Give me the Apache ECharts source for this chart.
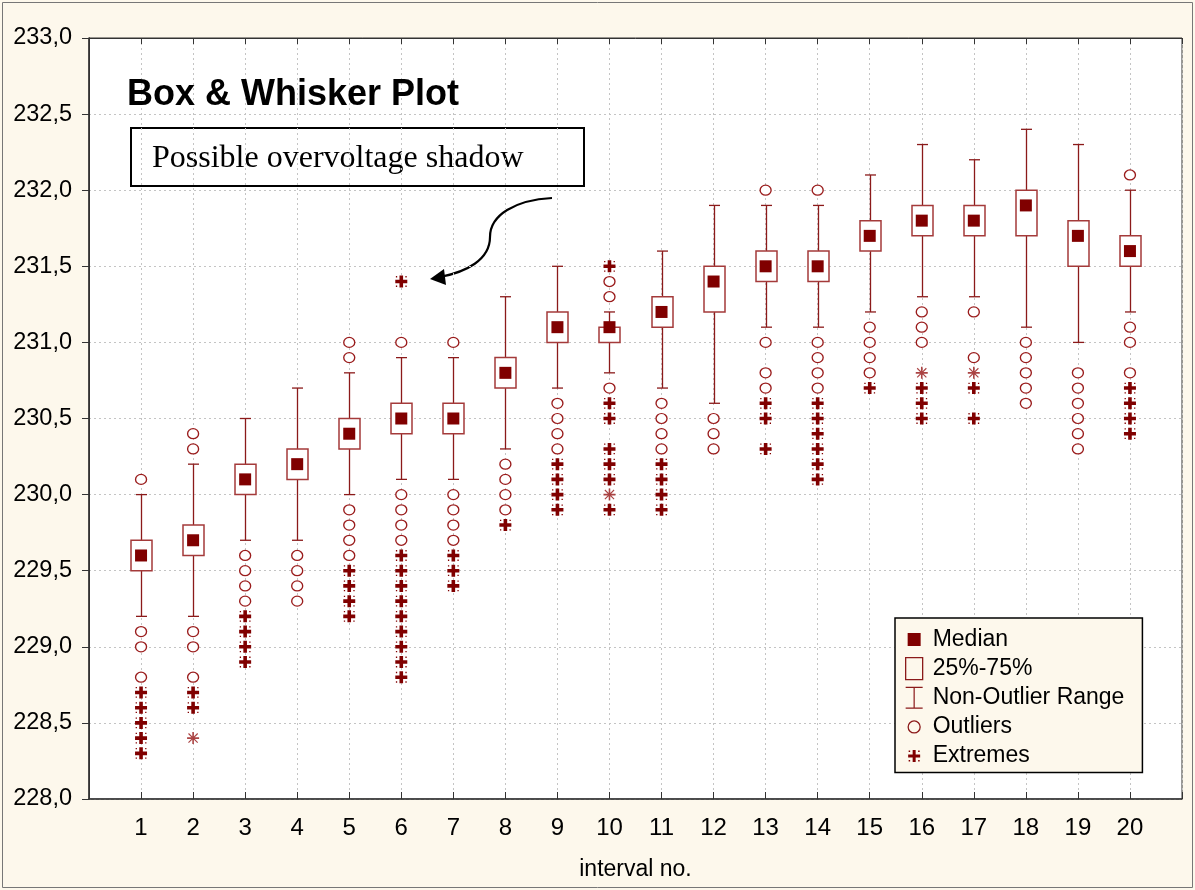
<!DOCTYPE html>
<html>
<head>
<meta charset="utf-8">
<script src="https://cdn.jsdelivr.net/npm/echarts@6/dist/echarts.min.js"></script>
<style>
html,body{margin:0;padding:0;background:#fdf8ec;}
#c{width:1195px;height:890px;}
</style>
</head>
<body>
<div id="c"></div>
<script>
// ---------------- data ----------------
const intervals = [1,2,3,4,5,6,7,8,9,10,11,12,13,14,15,16,17,18,19,20];
const yTicks = [228.0,228.5,229.0,229.5,230.0,230.5,231.0,231.5,232.0,232.5,233.0];
const whiskerLow  = [229.2,229.2,229.7,229.7,230.0,230.1,230.1,230.3,230.7,230.8,230.7,230.6,231.1,231.1,231.2,231.3,231.3,231.1,231.0,231.2];
const quartile1   = [229.5,229.6,230.0,230.1,230.3,230.4,230.4,230.7,231.0,231.0,231.1,231.2,231.4,231.4,231.6,231.7,231.7,231.7,231.5,231.5];
const medians     = [229.6,229.7,230.1,230.2,230.4,230.5,230.5,230.8,231.1,231.1,231.2,231.4,231.5,231.5,231.7,231.8,231.8,231.9,231.7,231.6];
const quartile3   = [229.7,229.8,230.2,230.3,230.5,230.6,230.6,230.9,231.2,231.1,231.3,231.5,231.6,231.6,231.8,231.9,231.9,232.0,231.8,231.7];
const whiskerHigh = [230.0,230.2,230.5,230.7,230.8,230.9,230.9,231.3,231.5,231.2,231.6,231.9,231.9,231.9,232.1,232.3,232.2,232.4,232.3,232.0];
const outliers = [
  [230.1,229.1,229.0,228.8],
  [230.4,230.3,229.1,229.0,228.8],
  [229.6,229.5,229.4,229.3],
  [229.6,229.5,229.4,229.3],
  [231.0,230.9,229.9,229.8,229.7,229.6],
  [231.0,230.0,229.9,229.8,229.7],
  [231.0,230.0,229.9,229.8,229.7],
  [230.2,230.1,230.0,229.9],
  [230.6,230.5,230.4,230.3],
  [231.4,231.3,230.7],
  [230.6,230.5,230.4,230.3],
  [230.5,230.4,230.3],
  [232.0,231.0,230.8,230.7],
  [232.0,231.0,230.9,230.8,230.7],
  [231.1,231.0,230.9,230.8],
  [231.2,231.1,231.0],
  [231.2,230.9],
  [231.0,230.9,230.8,230.7,230.6],
  [230.8,230.7,230.6,230.5,230.4,230.3],
  [232.1,231.1,231.0,230.8]
];
const extremes = [
  [228.7,228.6,228.5,228.4,228.3],
  [228.7,228.6],
  [229.2,229.1,229.0,228.9],
  [],
  [229.5,229.4,229.3,229.2],
  [231.4,229.6,229.5,229.4,229.3,229.2,229.1,229.0,228.9,228.8],
  [229.6,229.5,229.4],
  [229.8],
  [230.2,230.1,230.0,229.9],
  [231.5,230.6,230.5,230.3,230.2,230.1,229.9],
  [230.2,230.1,230.0,229.9],
  [],
  [230.6,230.5,230.3],
  [230.6,230.5,230.4,230.3,230.2,230.1],
  [230.7],
  [230.7,230.6,230.5],
  [230.7,230.5],
  [],
  [],
  [230.7,230.6,230.5,230.4]
];
const extremesFaint = [
  [], [228.4], [], [], [], [], [], [], [], [230.0],
  [], [], [], [], [], [230.8], [230.8], [], [], []
];

// ---------------- build ----------------
const RED = '#8B1A1A';
const DARK = '#800000';
const boxData = intervals.map((x, i) => [x, quartile1[i], quartile3[i]]);
const whiskerData = intervals.map((x, i) => [x, whiskerLow[i], whiskerHigh[i], quartile1[i], quartile3[i]]);
const medianData = intervals.map((x, i) => [x, medians[i]]);
const flat = arr => intervals.flatMap((x, i) => arr[i].map(v => [x, v]));
const outlierData = flat(outliers);
const extremeData = flat(extremes);
const extremeFaintData = flat(extremesFaint);

const ASTER = 'path://M4.2,0H7.8V4.2H12V7.8H7.8V12H4.2V7.8H0V4.2H4.2Z' +
  'M0.6,0.6H1.9V1.9H0.6Z M10.1,0.6H11.4V1.9H10.1Z M0.6,10.1H1.9V11.4H0.6Z M10.1,10.1H11.4V11.4H10.1Z';
const ASTER_THIN = 'path://M5.2,0H6.8V5.2H12V6.8H6.8V12H5.2V6.8H0V5.2H5.2Z' +
  'M1,1.8L1.8,1L11,10.2L10.2,11Z M10.2,1L11,1.8L1.8,11L1,10.2Z';

const chart = echarts.init(document.getElementById('c'), null, {renderer: 'canvas'});
const FONT = 'Liberation Sans, Arial, sans-serif';
const gridLine = {show: true, lineStyle: {color: '#c4c4c4', type: [2, 3], width: 1}};

const option = {
  backgroundColor: '#fdf8ec',
  animation: false,
  title: {
    text: 'Box & Whisker Plot',
    left: 127, top: 77, padding: 0,
    textStyle: {fontFamily: FONT, fontSize: 36, fontWeight: 'bold', color: '#000'}
  },
  grid: {left: 89, top: 38, right: 13, bottom: 91, show: true,
         backgroundColor: '#ffffff', borderColor: '#333', borderWidth: 1},
  xAxis: [{
    type: 'value', min: 0, max: 21, interval: 1, position: 'bottom',
    name: 'interval no.', nameLocation: 'middle', nameGap: 59,
    nameTextStyle: {fontFamily: FONT, fontSize: 23, color: '#000'},
    axisLine: {show: true, lineStyle: {color: '#333', width: 1.5}},
    axisTick: {show: true, inside: true, length: 7, lineStyle: {color: '#333'}},
    axisLabel: {margin: 17, fontFamily: FONT, fontSize: 24, color: '#000',
      formatter: v => (v >= 1 && v <= 20) ? String(intervals[v - 1]) : ''},
    splitLine: gridLine
  }, {
    type: 'value', min: 0, max: 21, interval: 1, position: 'top',
    axisLine: {show: true, lineStyle: {color: '#333'}},
    axisTick: {show: true, inside: true, length: 6, lineStyle: {color: '#333'}},
    axisLabel: {show: false}, splitLine: {show: false}
  }],
  yAxis: [{
    type: 'value', min: 228, max: 233, interval: 0.5, position: 'left',
    axisLine: {show: true, lineStyle: {color: '#333', width: 1.5}},
    axisTick: {show: true, inside: false, length: 7, lineStyle: {color: '#333'}},
    axisLabel: {margin: 17, fontFamily: FONT, fontSize: 23.5, color: '#000',
      formatter: v => {
        const t = yTicks.find(k => Math.abs(k - v) < 1e-6);
        return t === undefined ? '' : t.toFixed(1).replace('.', ',');
      }},
    splitLine: gridLine
  }, {
    type: 'value', min: 228, max: 233, interval: 0.5, position: 'right',
    axisLine: {show: true, lineStyle: {color: '#333'}},
    axisTick: {show: true, inside: true, length: 6, lineStyle: {color: '#333'}},
    axisLabel: {show: false}, splitLine: {show: false}
  }],
  legend: {
    orient: 'vertical', left: 895, top: 618,
    padding: [10, 18, 5, 10],
    itemWidth: 27, itemHeight: 22, itemGap: 6,
    backgroundColor: '#fdf8ec', borderColor: '#000', borderWidth: 1.5,
    selectedMode: false,
    textStyle: {fontFamily: FONT, fontSize: 23, color: '#000'},
    data: [
      {name: 'Median', icon: 'path://M0,0M17,0M0,22M17,22M2,4.5H15V17.5H2Z',
       itemStyle: {color: DARK, borderWidth: 0}},
      {name: '25%-75%', icon: 'path://M0,0H17V22H0Z',
       itemStyle: {color: 'rgba(0,0,0,0)', borderColor: RED, borderWidth: 1.3}},
      {name: 'Non-Outlier Range', icon: 'path://M0,0H17V1.3H9.1V20.7H17V22H0V20.7H7.9V1.3H0Z',
       itemStyle: {color: RED, borderWidth: 0}},
      {name: 'Outliers', icon: 'path://M0,0M17,0M0,22M17,22M14.5,11A6,6 0 1 1 2.5,11A6,6 0 1 1 14.5,11Z',
       itemStyle: {color: 'rgba(0,0,0,0)', borderColor: RED, borderWidth: 1.3}},
      {name: 'Extremes', icon: 'path://M0,0M17,0M0,22M17,22M7,5H10V9.5H14.5V12.5H10V17H7V12.5H2.5V9.5H7Z M3,5.5H4.5V7H3Z M12.5,5.5H14V7H12.5Z M3,15H4.5V16.5H3Z M12.5,15H14V16.5H12.5Z',
       itemStyle: {color: DARK, borderWidth: 0}}
    ]
  },
  series: [
    {
      name: 'Non-Outlier Range', type: 'custom', z: 2,
      encode: {x: 0, y: [1, 2]},
      itemStyle: {color: RED},
      renderItem: (params, api) => {
        const x = api.value(0);
        const lo = api.coord([x, api.value(1)]);
        const hi = api.coord([x, api.value(2)]);
        const q1 = api.coord([x, api.value(3)]);
        const q3 = api.coord([x, api.value(4)]);
        const cx = Math.round(lo[0]) + 0.5;
        const cw = 5.5;
        const st = {stroke: RED, lineWidth: 1.3};
        return {type: 'group', children: [
          {type: 'line', shape: {x1: cx, y1: lo[1], x2: cx, y2: q1[1]}, style: st},
          {type: 'line', shape: {x1: cx, y1: hi[1], x2: cx, y2: q3[1]}, style: st},
          {type: 'line', shape: {x1: cx - cw, y1: lo[1], x2: cx + cw, y2: lo[1]}, style: st},
          {type: 'line', shape: {x1: cx - cw, y1: hi[1], x2: cx + cw, y2: hi[1]}, style: st}
        ]};
      },
      data: whiskerData
    },
    {
      name: '25%-75%', type: 'custom', z: 3,
      encode: {x: 0, y: [1, 2]},
      itemStyle: {color: '#ffffff', borderColor: RED},
      renderItem: (params, api) => {
        const x = api.value(0);
        const a = api.coord([x, api.value(2)]);
        const b = api.coord([x, api.value(1)]);
        const w = 21;
        const cx = Math.round(a[0]) + 0.5;
        return {type: 'rect',
          shape: {x: cx - w / 2, y: a[1], width: w, height: b[1] - a[1]},
          style: {fill: '#ffffff', stroke: '#a43a3a', lineWidth: 1.5}};
      },
      data: boxData
    },
    {
      name: 'Median', type: 'scatter', z: 4,
      symbol: 'rect', symbolSize: 12,
      itemStyle: {color: DARK, opacity: 1},
      emphasis: {disabled: true},
      data: medianData
    },
    {
      name: 'Outliers', type: 'scatter', z: 4,
      symbol: 'circle', symbolSize: [11, 10],
      itemStyle: {color: '#ffffff', borderColor: '#9a1c1c', borderWidth: 1.3, opacity: 1},
      emphasis: {disabled: true},
      data: outlierData
    },
    {
      name: 'Extremes', type: 'scatter', z: 4,
      symbol: ASTER, symbolSize: 12,
      itemStyle: {color: DARK, opacity: 1},
      emphasis: {disabled: true},
      data: extremeData
    },
    {
      name: 'Extremes', type: 'scatter', z: 4,
      symbol: ASTER_THIN, symbolSize: 12,
      itemStyle: {color: '#a23030', opacity: 0.9},
      emphasis: {disabled: true},
      data: extremeFaintData
    }
  ],
  graphic: [
    {type: 'rect', z: 0, silent: true,
     shape: {x: 2.5, y: 2.5, width: 1190, height: 885},
     style: {fill: 'none', stroke: '#777', lineWidth: 1}},
    {type: 'group', z: 100, silent: true, children: [
      {type: 'rect', shape: {x: 131, y: 128, width: 453, height: 58},
       style: {fill: '#ffffff', stroke: '#000', lineWidth: 2}},
      {type: 'text', x: 152, y: 159,
       style: {text: 'Possible overvoltage shadow', fill: '#000',
               font: '32px "Liberation Serif", "Times New Roman", serif',
               verticalAlign: 'middle', align: 'left'}},
      {type: 'bezierCurve',
       shape: {x1: 552, y1: 198, cpx1: 515, cpy1: 200, cpx2: 490, cpy2: 215, x2: 490, y2: 237},
       style: {stroke: '#000', lineWidth: 2.2, fill: 'none'}},
      {type: 'bezierCurve',
       shape: {x1: 490, y1: 237, cpx1: 490, cpy1: 260, cpx2: 466, cpy2: 272, x2: 440, y2: 277},
       style: {stroke: '#000', lineWidth: 2.2, fill: 'none'}},
      {type: 'polygon', shape: {points: [[430, 279], [444, 269], [446, 285]]},
       style: {fill: '#000'}}
    ]}
  ]
};
chart.setOption(option);
</script>
</body>
</html>
